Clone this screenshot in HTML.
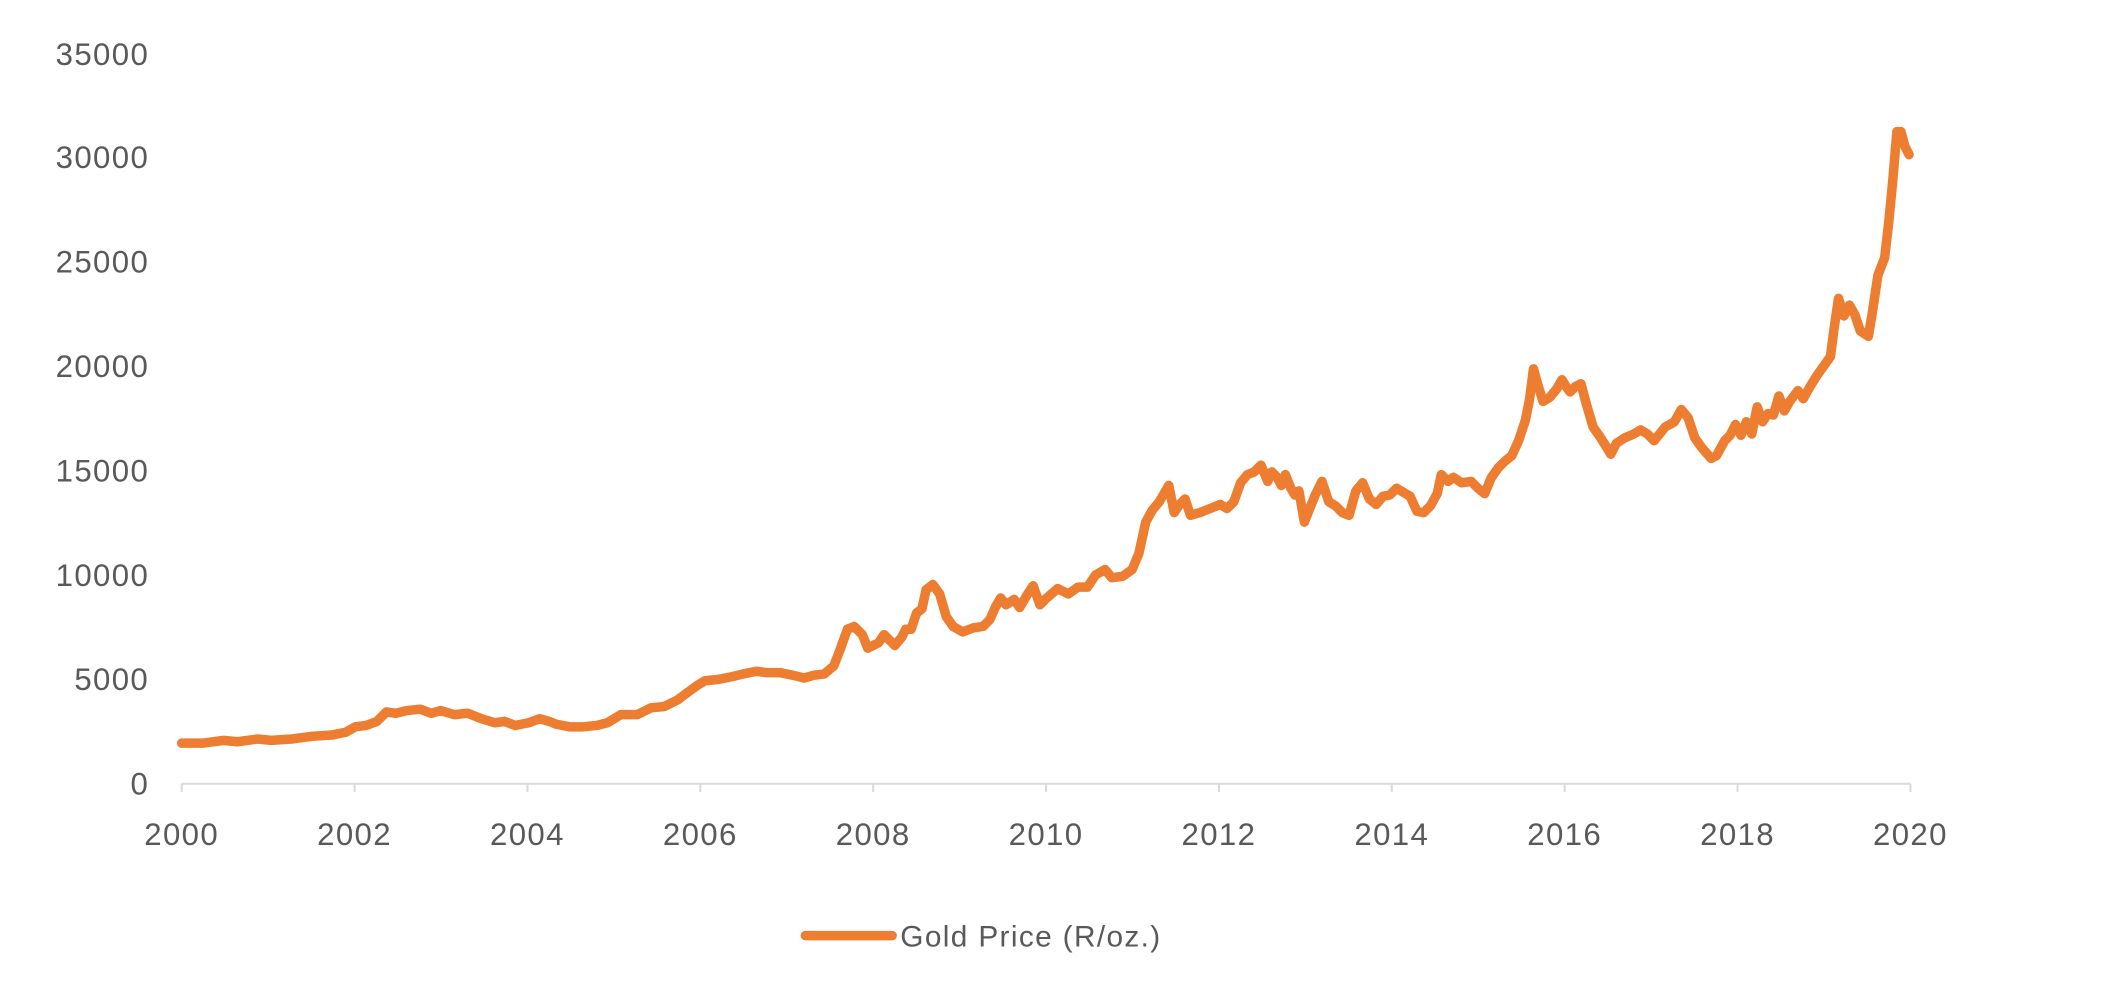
<!DOCTYPE html>
<html><head><meta charset="utf-8"><style>
html,body{margin:0;padding:0;background:#fff;}
svg{display:block;}
text{font-family:"Liberation Sans",sans-serif;fill:#595959;letter-spacing:1px;}
</style></head><body>
<svg width="2126" height="994" viewBox="0 0 1568 733" xmlns="http://www.w3.org/2000/svg">
<g font-size="23" text-anchor="end">
<text x="110" y="586">0</text>
<text x="110" y="509">5000</text>
<text x="110" y="432">10000</text>
<text x="110" y="355">15000</text>
<text x="110" y="278">20000</text>
<text x="110" y="201">25000</text>
<text x="110" y="124">30000</text>
<text x="110" y="48">35000</text>
</g>
<line x1="134" y1="578" x2="1409" y2="578" stroke="#d9d9d9" stroke-width="1.5"/>
<g stroke="#d9d9d9" stroke-width="1.5">
<line x1="134" y1="578" x2="134" y2="584"/><line x1="261.5" y1="578" x2="261.5" y2="584"/>
<line x1="389" y1="578" x2="389" y2="584"/><line x1="516.5" y1="578" x2="516.5" y2="584"/>
<line x1="644" y1="578" x2="644" y2="584"/><line x1="771.5" y1="578" x2="771.5" y2="584"/>
<line x1="899" y1="578" x2="899" y2="584"/><line x1="1026.5" y1="578" x2="1026.5" y2="584"/>
<line x1="1154" y1="578" x2="1154" y2="584"/><line x1="1281.5" y1="578" x2="1281.5" y2="584"/>
<line x1="1409" y1="578" x2="1409" y2="584"/>
</g>
<g font-size="23" text-anchor="middle">
<text x="134" y="623">2000</text><text x="261.5" y="623">2002</text><text x="389" y="623">2004</text>
<text x="516.5" y="623">2006</text><text x="644" y="623">2008</text><text x="771.5" y="623">2010</text>
<text x="899" y="623">2012</text><text x="1026.5" y="623">2014</text><text x="1154" y="623">2016</text>
<text x="1281.5" y="623">2018</text><text x="1409" y="623">2020</text>
</g>
<polyline fill="none" stroke="#ED7D31" stroke-width="7" stroke-linejoin="round" stroke-linecap="round" points="
134,548 150,548 165,546 175,547 190,545 200,546 215,545 230,543 245,542 255,540 262,536 270,535 278,532 285,525 292,526 300,524 310,523 318,526 325,524 335,527 345,526 355,530 365,533 372,532 380,535 390,533 398,530 405,532 410,534 420,536 430,536 440,535 448,533 458,527 470,527 480,522 490,521 500,516 508,510 515,505 520,502 530,501 540,499 548,497 558,495 565,496 575,496 585,498 593,500 600,498 608,497 615,491 620,478 625,464 630,462 636,468 640,478 648,474 652,468 660,476 665,470 668,464 672,464 676,452 680,449 683,435 688,431 693,438 698,455 703,462 710,466 718,463 725,462 730,457 734,448 738,441 742,446 748,442 752,448 758,438 762,432 767,446 772,441 780,434 788,438 795,433 802,433 808,424 815,420 820,426 828,425 835,420 840,408 845,385 850,376 855,370 862,358 866,378 870,372 874,368 878,380 885,378 890,376 895,374 900,372 905,375 910,370 915,356 920,350 925,348 930,343 935,355 938,348 942,352 945,358 948,350 952,360 955,365 958,362 962,385 966,375 970,365 975,355 980,370 985,373 990,378 995,380 1000,362 1005,356 1010,368 1015,372 1020,366 1025,365 1030,360 1040,366 1045,377 1050,378 1055,373 1060,364 1063,350 1068,355 1072,352 1078,356 1085,355 1090,360 1095,364 1100,352 1105,345 1110,340 1115,336 1120,325 1125,310 1128,295 1131,272 1134,283 1138,296 1143,293 1148,287 1152,280 1155,285 1158,289 1162,285 1166,283 1170,298 1175,315 1180,322 1185,330 1188,335 1192,327 1198,323 1205,320 1210,317 1215,320 1220,325 1228,315 1235,311 1240,302 1245,308 1250,323 1255,330 1262,338 1266,336 1272,325 1276,321 1280,313 1284,321 1288,311 1292,320 1296,300 1300,311 1304,305 1308,306 1312,292 1316,303 1320,296 1326,288 1330,294 1335,285 1340,277 1345,270 1350,263 1353,240 1356,220 1360,233 1364,225 1368,232 1372,244 1378,248 1381,230 1385,203 1390,190 1393,164 1396,133 1399,97 1402,97 1405,108 1408,114"/>
<line x1="594" y1="690" x2="658" y2="690" stroke="#ED7D31" stroke-width="7" stroke-linecap="round"/>
<text x="664" y="698" font-size="22">Gold Price (R/oz.)</text>
</svg>
</body></html>
